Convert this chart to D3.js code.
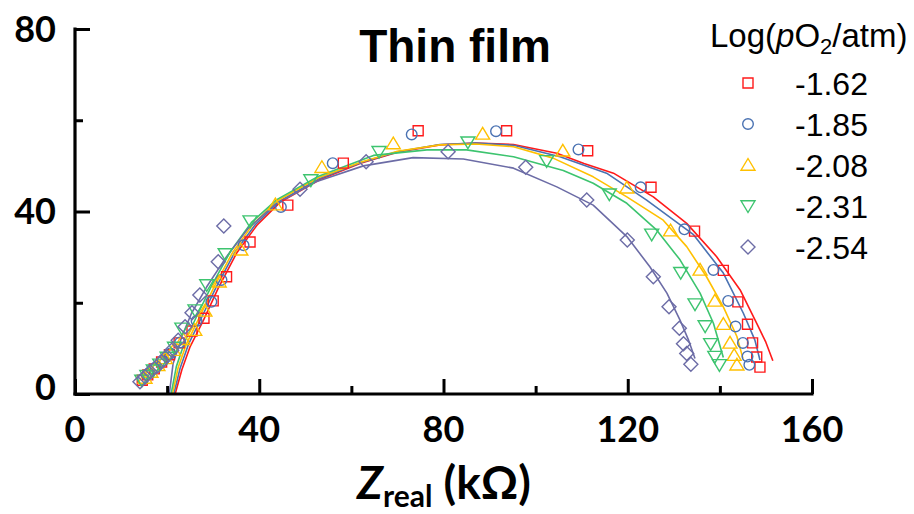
<!DOCTYPE html>
<html>
<head>
<meta charset="utf-8">
<script src="https://cdn.jsdelivr.net/npm/d3@7/dist/d3.min.js"></script>
<style>
  html, body { margin: 0; padding: 0; background: #fff; }
  svg { display: block; }
</style>
</head>
<body>
<svg id="chart" width="914" height="514"></svg>
<script>
// Nyquist impedance spectra of the thin-film electrode at five oxygen partial pressures.
// Points are measured [Zreal, -Zimag] pairs (kOhm); lines are the equivalent-circuit fits.

const seriesNames = ["-1.62", "-1.85", "-2.08", "-2.31", "-2.54"];
const seriesColors = ["#FF1A1A", "#4A72B2", "#FFC000", "#3DC46F", "#6C6CA6"];
const seriesShapes = ["square", "circle", "triangle", "triangleDown", "diamond"];

const xTicks = [0, 40, 80, 120, 160];
const xMinorTicks = [20, 60, 100, 140];
const yTicks = [0, 40, 80];
const yMinorTicks = [20, 60];

const measured162 = [
  [14.6, 3.0], [15.8, 4.2], [17.2, 5.5], [18.8, 7.0], [20.5, 8.6], [22.6, 11.2], [25.4, 13.8],
  [28.0, 16.6], [30.0, 20.4], [32.9, 25.7], [38.0, 33.3], [46.2, 41.4], [58.25, 50.6],
  [74.5, 57.7], [93.7, 57.7], [111.3, 53.3], [125.05, 45.3], [134.5, 35.7], [140.75, 27.1],
  [143.9, 20.2], [146.0, 15.3], [147.1, 11.2], [148.0, 8.1], [148.7, 5.9]
];
const measured185 = [
  [14.8, 3.3], [16.0, 4.5], [17.5, 5.8], [19.0, 7.3], [20.7, 8.9], [22.8, 11.3], [26.4, 16.0],
  [29.6, 20.2], [31.8, 25.0], [36.6, 32.6], [44.7, 41.0], [55.95, 50.6], [73.1, 56.9],
  [91.4, 57.6], [109.3, 53.6], [122.8, 45.3], [132.3, 36.1], [138.6, 27.2], [141.8, 20.4],
  [143.4, 14.8], [145.0, 11.2], [146.0, 8.2], [146.4, 6.4]
];
const measured208 = [
  [15.2, 3.5], [16.5, 4.8], [18.0, 6.3], [19.6, 7.8], [21.4, 9.6], [23.5, 12.0], [26.0, 14.0],
  [28.2, 18.2], [31.3, 24.6], [36.0, 31.6], [43.5, 41.5], [53.6, 49.7], [69.1, 54.9],
  [88.5, 57.0], [105.9, 53.3], [119.8, 45.2], [129.3, 35.8], [135.7, 27.2], [138.9, 20.4],
  [140.75, 15.3], [142.2, 11.2], [143.1, 8.5], [143.7, 6.4]
];
const measured231 = [
  [14.5, 3.0], [15.6, 4.0], [17.0, 5.2], [18.4, 6.5], [20.0, 8.0], [21.6, 10.2], [23.2, 14.4],
  [26.05, 18.4], [28.6, 23.9], [32.6, 30.7], [38.0, 37.9], [51.2, 46.9], [66.0, 53.1],
  [85.3, 55.2], [102.4, 51.1], [116.0, 43.8], [125.2, 35.0], [131.5, 26.6], [134.6, 19.7],
  [136.8, 14.9], [138.0, 11.0], [138.9, 8.2], [139.9, 6.4]
];
const measured254 = [
  [14.1, 2.7], [15.2, 3.8], [16.3, 4.9], [17.7, 6.0], [18.8, 7.1], [19.9, 8.2], [21.0, 9.6],
  [22.4, 11.8], [23.9, 14.75], [25.4, 17.8], [27.1, 21.7], [31.1, 29.0], [32.3, 36.8],
  [48.85, 44.9], [63.2, 50.9], [81.0, 53.1], [97.85, 49.7], [111.1, 42.5], [119.9, 33.75],
  [125.55, 25.7], [128.96, 19.1], [131.2, 14.4], [132.1, 11.0], [132.8, 8.9], [133.7, 6.5]
];

const fit162 = [
  [21.8, 0.2], [23.2, 5.3], [25.0, 10.4], [27.9, 16.2], [31.1, 23.2], [35.1, 30.9], [39.5, 37.0],
  [44.5, 42.0], [53.2, 47.0], [62.0, 50.6], [70.0, 53.0], [79.2, 54.6], [87.0, 55.0], [95.2, 54.7],
  [104.6, 52.75], [110.5, 50.5], [116.9, 48.4], [125.55, 43.2], [132.8, 37.4], [139.3, 30.1],
  [144.4, 22.8], [148.0, 15.5], [150.0, 11.3], [151.5, 7.3]
];
const fit185 = [
  [21.5, 0.2], [22.8, 5.6], [24.6, 10.8], [27.4, 16.6], [30.6, 23.3], [34.6, 30.9], [39.2, 37.2],
  [44.3, 42.2], [53.0, 47.2], [62.0, 50.7], [70.0, 53.1], [79.2, 54.7], [87.0, 55.0], [95.2, 54.5],
  [105.3, 52.0], [115.4, 48.4], [124.1, 42.5], [134.2, 35.0], [140.75, 26.5], [145.1, 17.7],
  [147.6, 11.8], [148.7, 7.45]
];
const fit208 = [
  [21.2, 0.2], [22.4, 5.8], [24.2, 11.0], [27.0, 16.8], [30.2, 23.5], [34.2, 31.0], [38.8, 37.4],
  [44.0, 42.4], [52.8, 47.4], [62.0, 50.8], [70.0, 53.2], [79.2, 54.6], [87.0, 54.8], [95.2, 54.2],
  [103.8, 51.7], [112.5, 47.6], [119.8, 43.2], [127.7, 38.1], [132.8, 32.3], [137.1, 25.7],
  [140.75, 19.1], [143.7, 12.6], [145.0, 7.8]
];
const fit231 = [
  [20.9, 0.2], [22.0, 6.0], [23.8, 11.4], [26.5, 17.2], [29.7, 23.8], [33.7, 31.2], [38.3, 37.6],
  [43.8, 42.6], [52.6, 47.6], [64.8, 52.3], [76.4, 53.5], [85.0, 53.5], [95.2, 52.0], [106.0, 49.0],
  [112.5, 46.2], [119.8, 41.8], [126.3, 35.9], [131.35, 29.4], [135.7, 22.1], [138.6, 15.5],
  [140.75, 8.0]
];
const fit254 = [
  [20.5, 0.2], [21.3, 6.7], [23.2, 12.6], [25.3, 17.7], [28.6, 23.5], [32.9, 30.1], [37.6, 36.3],
  [43.5, 41.6], [52.5, 46.6], [62.6, 50.0], [73.4, 51.8], [84.3, 51.5], [95.2, 49.5], [104.6, 45.4],
  [112.5, 41.4], [119.8, 34.5], [124.8, 27.9], [128.5, 22.1], [131.35, 16.2], [133.2, 11.8],
  [134.6, 7.8]
];

const measuredSets = [measured162, measured185, measured208, measured231, measured254];
const fitSets = [fit162, fit185, fit208, fit231, fit254];

const svg = d3.select("#chart");
const x = d3.scaleLinear().domain([0, 160]).range([75, 812]);
const y = d3.scaleLinear().domain([0, 80]).range([394, 29]);

const tickFont = "Lato, 'Open Sans', sans-serif";

// Marker outline paths centred on the origin
function markerPath(shape) {
  const p = d3.path();
  if (shape === "square") {
    p.rect(-5, -5, 10, 10);
  } else if (shape === "circle") {
    p.arc(0, 0, 5.3, 0, 2 * Math.PI);
  } else if (shape === "triangle") {
    p.moveTo(0, -6.5); p.lineTo(7, 5.2); p.lineTo(-7, 5.2); p.closePath();
  } else if (shape === "triangleDown") {
    p.moveTo(0, 6.5); p.lineTo(7, -5.2); p.lineTo(-7, -5.2); p.closePath();
  } else {
    p.moveTo(0, -7); p.lineTo(7, 0); p.lineTo(0, 7); p.lineTo(-7, 0); p.closePath();
  }
  return p.toString();
}

// Fit curves
const line = d3.line().x(d => x(d[0])).y(d => y(d[1]));
const fits = svg.append("g").attr("class", "fits");
fitSets.forEach((fs, i) => {
  fits.append("path")
    .attr("d", line(fs))
    .attr("fill", "none")
    .attr("stroke", seriesColors[i])
    .attr("stroke-width", 1.6)
    .attr("stroke-linejoin", "round");
});

// Measured points
const pts = svg.append("g").attr("class", "points");
measuredSets.forEach((ms, i) => {
  pts.append("g").selectAll("path")
    .data(ms)
    .join("path")
    .attr("transform", d => `translate(${x(d[0])},${y(d[1])})`)
    .attr("d", markerPath(seriesShapes[i]))
    .attr("fill", "none")
    .attr("stroke", seriesColors[i])
    .attr("stroke-width", 1.4);
});

// Axes: ticks point into the plot area
const xAxis = svg.append("g").attr("transform", `translate(0,${y(0)})`);
xAxis.call(d3.axisTop(x).tickValues(xTicks).tickSize(15).tickFormat(""));
xAxis.append("g").call(d3.axisTop(x).tickValues(xMinorTicks).tickSize(8).tickFormat(""));
const yAxis = svg.append("g").attr("transform", `translate(${x(0)},0)`);
yAxis.call(d3.axisRight(y).tickValues(yTicks).tickSize(15).tickFormat(""));
yAxis.append("g").call(d3.axisRight(y).tickValues(yMinorTicks).tickSize(8).tickFormat(""));
svg.selectAll(".domain").attr("stroke", "#000").attr("stroke-width", 3.2);
svg.selectAll(".tick line").attr("stroke", "#000").attr("stroke-width", 3);
// plain axis lines without end caps
xAxis.select(".domain").attr("d", `M${x(0) - 1.5},0H${x(160) + 1.5}`);
yAxis.select(".domain").attr("d", `M0,${y(80) - 1.5}V${y(0) + 1.5}`);
svg.selectAll(".domain").filter(function () { return this.parentNode !== xAxis.node() && this.parentNode !== yAxis.node(); }).remove();

// Tick labels
svg.append("g").selectAll("text").data(xTicks).join("text")
  .attr("x", d => x(d)).attr("y", 442)
  .attr("text-anchor", "middle")
  .attr("font-family", tickFont).attr("font-weight", 700).attr("font-size", 36)
  .text(d => d);
svg.append("g").selectAll("text").data(yTicks).join("text")
  .attr("x", 56).attr("y", d => d === 0 ? 400 : y(d) + 12.5)
  .attr("text-anchor", "end")
  .attr("font-family", tickFont).attr("font-weight", 700).attr("font-size", 36)
  .text(d => d);

// Axis title
const xt = svg.append("text").attr("x", 444).attr("y", 499).attr("text-anchor", "middle")
  .attr("font-family", tickFont).attr("font-weight", 700).attr("font-size", 46);
xt.append("tspan").attr("font-style", "italic").text("Z");
xt.append("tspan").attr("font-size", 30).attr("dy", 8).text("real");
xt.append("tspan").attr("dy", -8).text(" (k\u03A9)");

// Title
svg.append("text").attr("x", 455).attr("y", 62).attr("text-anchor", "middle")
  .attr("font-family", "'Liberation Sans', Arial, sans-serif").attr("font-weight", 700)
  .attr("font-size", 46).text("Thin film");

// Legend
const legendFont = "'Liberation Sans', Arial, sans-serif";
const lt = svg.append("text").attr("x", 710).attr("y", 47)
  .attr("font-family", legendFont).attr("font-size", 33);
lt.append("tspan").text("Log(");
lt.append("tspan").attr("font-style", "italic").text("p");
lt.append("tspan").text("O");
lt.append("tspan").attr("font-size", 22).attr("dy", 7).text("2");
lt.append("tspan").attr("dy", -7).text("/atm)");

const leg = svg.append("g").selectAll("g").data(seriesNames).join("g")
  .attr("transform", (d, i) => `translate(0,${83 + i * 41})`);
leg.append("path")
  .attr("transform", "translate(748,0)")
  .attr("d", (d, i) => markerPath(seriesShapes[i]))
  .attr("fill", "none")
  .attr("stroke", (d, i) => seriesColors[i])
  .attr("stroke-width", 1.4);
leg.append("text").attr("x", 795).attr("y", 11.5)
  .attr("font-family", legendFont).attr("font-size", 32)
  .text(d => d);
</script>
</body>
</html>
